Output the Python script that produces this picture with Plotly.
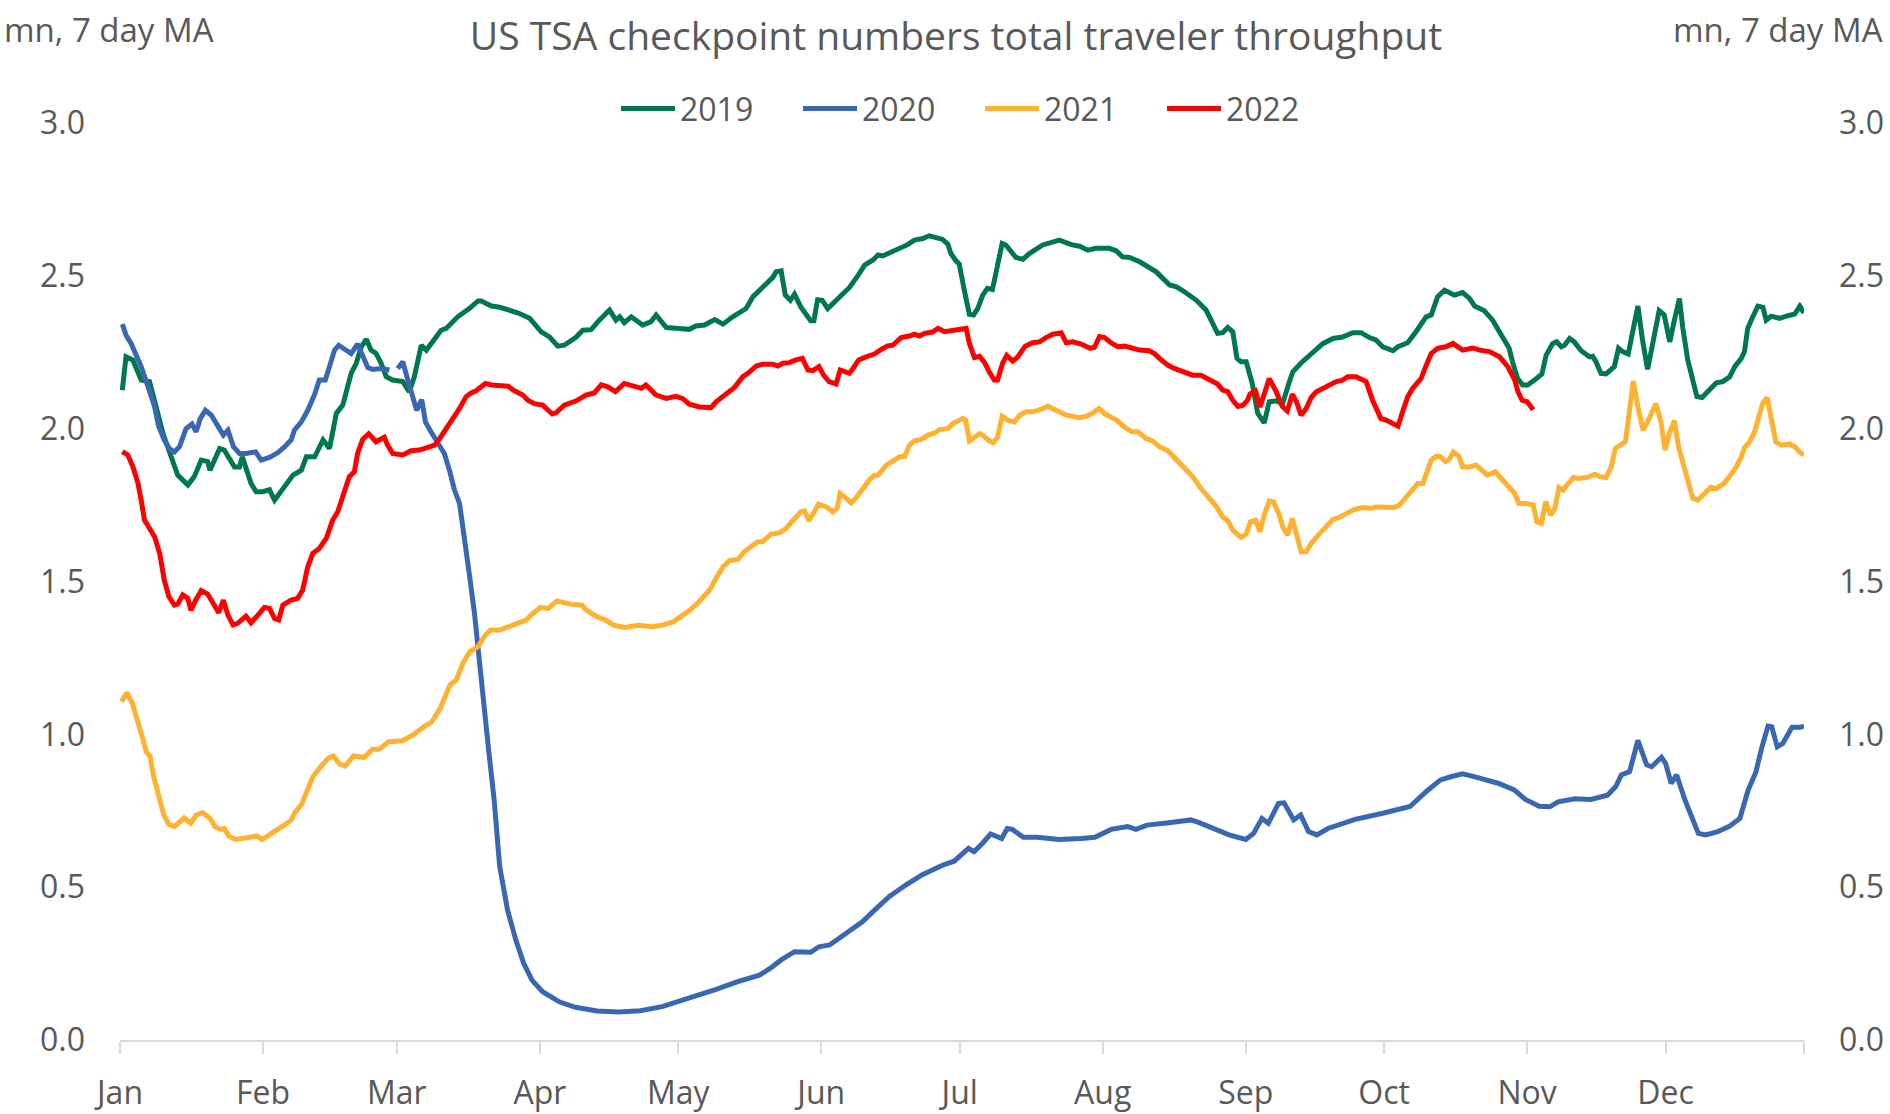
import plotly.graph_objects as go

# ---------------- data (day of year, millions, 7-day MA) ----------------
day_2019 = [0.5,1.3,2.8,4.6,6.4,7.8,9.3,11.1,12.5,14.7,16.1,17.6,19.0,19.5,21.6,22.6,24.8,25.9,26.5,28.4,29.5,30.9,32.4,33.5,35.3,37.5,39.3,40.4,42.2,44.0,45.4,46.9,48.3,50.1,51.2,52.3,53.4,54.4,55.5,56.6,57.7,59.1,61.3,62.7,63.8,65.3,66.4,68.2,69.6,70.7,73.2,75.7,77.6,78.3,80.5,82.3,84.4,86.2,88.8,91.3,93.1,94.9,96.3,98.9,100.3,102.1,103.9,106.1,107.5,108.3,109.3,110.8,113.3,115.1,116.2,118.4,121.2,123.4,124.8,126.7,128.9,130.7,132.8,135.7,137.2,139.3,140.4,141.5,142.2,143.3,144.2,145.3,146.2,147.6,149.7,150.4,151.2,152.2,153.4,155.6,158.1,159.9,161.4,163.2,164.3,165.3,168.2,170.7,172.2,174.0,175.4,176.9,178.3,179.4,180.1,181.2,181.9,183.0,184.1,185.0,185.9,187.0,188.0,189.1,190.2,191.2,192.0,194.2,195.7,197.1,200.0,201.5,203.6,206.2,208.0,209.8,211.5,214.4,215.9,217.3,218.8,221.0,223.1,224.6,227.5,229.0,230.7,233.3,235.4,236.9,237.9,239.0,240.1,241.2,242.1,243.0,244.1,245.4,246.6,248.0,249.1,250.6,252.0,253.1,254.2,256.0,257.8,259.2,260.7,262.9,265.0,267.2,269.0,270.8,272.2,273.7,275.9,277.0,279.1,280.9,283.1,284.2,285.6,287.1,289.2,291.0,292.5,293.6,295.7,297.5,299.3,301.1,301.9,302.9,304.0,305.1,306.6,308.2,309.1,310.5,311.4,312.4,313.1,314.2,315.2,316.7,318.5,319.2,319.9,321.0,322.1,323.9,324.8,325.7,326.9,327.9,329.0,330.0,331.1,332.2,333.6,334.7,335.9,336.9,338.0,338.7,339.8,340.9,341.8,342.9,344.6,346.0,347.4,348.9,350.0,351.4,352.1,352.8,353.9,355.0,356.1,356.8,357.9,359.7,361.2,363.0,364.1,365.0]
val_2019 = [2.126,2.235,2.224,2.159,2.154,2.07,1.985,1.908,1.848,1.816,1.843,1.897,1.892,1.864,1.935,1.93,1.875,1.875,1.908,1.821,1.794,1.794,1.80,1.766,1.80,1.848,1.864,1.908,1.908,1.963,1.935,2.05,2.078,2.181,2.214,2.268,2.293,2.257,2.246,2.214,2.17,2.159,2.154,2.12,2.17,2.273,2.257,2.295,2.322,2.328,2.366,2.393,2.418,2.418,2.401,2.397,2.386,2.379,2.361,2.317,2.30,2.27,2.273,2.30,2.322,2.324,2.355,2.388,2.355,2.366,2.347,2.366,2.339,2.35,2.372,2.331,2.328,2.325,2.336,2.339,2.357,2.342,2.366,2.393,2.432,2.462,2.48,2.495,2.513,2.516,2.437,2.42,2.44,2.397,2.353,2.353,2.422,2.42,2.393,2.424,2.462,2.5,2.535,2.552,2.568,2.565,2.584,2.602,2.617,2.622,2.631,2.626,2.619,2.604,2.573,2.549,2.539,2.453,2.374,2.372,2.393,2.437,2.459,2.455,2.541,2.606,2.601,2.56,2.554,2.573,2.601,2.606,2.617,2.602,2.597,2.584,2.59,2.59,2.582,2.562,2.56,2.546,2.524,2.513,2.47,2.464,2.448,2.42,2.388,2.339,2.312,2.314,2.331,2.317,2.23,2.219,2.219,2.148,2.05,2.019,2.088,2.091,2.082,2.137,2.186,2.215,2.24,2.262,2.278,2.295,2.3,2.314,2.314,2.298,2.29,2.268,2.255,2.268,2.281,2.317,2.366,2.372,2.432,2.453,2.437,2.445,2.426,2.401,2.386,2.355,2.312,2.263,2.214,2.165,2.143,2.143,2.159,2.179,2.24,2.278,2.284,2.268,2.273,2.295,2.284,2.255,2.235,2.237,2.219,2.181,2.179,2.203,2.263,2.252,2.244,2.317,2.401,2.29,2.194,2.278,2.386,2.372,2.284,2.355,2.426,2.333,2.225,2.159,2.105,2.102,2.126,2.15,2.154,2.17,2.203,2.23,2.252,2.328,2.366,2.401,2.397,2.355,2.368,2.361,2.368,2.375,2.401,2.379]

day_2020 = [0.5,1.3,2.4,3.5,4.6,5.7,6.8,7.5,8.4,9.6,10.7,11.8,12.9,14.3,15.6,16.5,17.4,18.5,19.8,21.2,22.4,23.4,24.6,25.9,27.3,29.4,30.6,32.4,34.2,35.7,37.1,37.8,39.3,40.7,42.2,43.2,44.5,45.4,46.5,47.4,49.0,50.1,51.5,52.6,53.7,54.8,56.6,58.4,59.3,60.2,61.3,62.4,63.5,64.3,65.4,66.2,67.4,68.9,70.3,71.4,72.5,73.6,74.7,75.7,76.8,77.6,78.8,79.9,81.1,82.3,84.0,85.8,87.5,89.3,91.6,95.2,98.7,103.4,108.1,112.8,117.5,121.0,124.5,129.2,133.9,138.6,140.9,143.3,146.2,149.7,151.5,153.8,157.4,160.9,163.2,166.7,170.3,173.8,178.5,180.8,183.9,185.1,186.9,188.7,191.1,192.3,193.4,195.8,198.8,203.5,208.3,211.3,214.8,218.4,220.2,222.6,227.3,232.1,233.9,236.8,240.4,244.0,245.7,247.5,248.9,251.1,252.3,254.4,255.9,257.6,259.4,261.8,267.7,273.7,279.6,283.2,286.2,288.6,291.0,293.9,298.7,302.2,304.6,307.6,309.9,311.7,315.3,318.8,322.4,324.2,325.4,327.2,329.0,330.9,332.0,334.1,335.0,336.2,337.4,339.2,342.1,343.7,346.3,348.7,351.1,352.9,354.6,355.8,357.2,358.0,359.2,360.4,362.4,364.2,365.0]
val_2020 = [2.342,2.306,2.279,2.241,2.203,2.154,2.105,2.072,2.006,1.963,1.935,1.924,1.941,2.0,2.015,1.99,2.033,2.06,2.044,2.006,1.979,1.995,1.941,1.919,1.919,1.924,1.897,1.906,1.921,1.941,1.963,1.995,2.022,2.06,2.113,2.159,2.159,2.203,2.257,2.273,2.257,2.246,2.277,2.235,2.2,2.194,2.197,2.192,None,2.197,2.219,2.159,2.105,2.06,2.095,2.022,1.99,1.954,1.919,1.864,1.799,1.755,1.646,1.526,1.40,1.276,1.112,0.949,0.785,0.567,0.425,0.327,0.251,0.196,0.158,0.125,0.107,0.095,0.092,0.096,0.109,0.125,0.144,0.166,0.191,0.212,0.234,0.262,0.289,0.287,0.305,0.311,0.349,0.387,0.42,0.469,0.507,0.54,0.573,0.585,0.627,0.616,0.643,0.674,0.659,0.692,0.689,0.663,0.663,0.656,0.659,0.663,0.689,0.698,0.689,0.703,0.711,0.72,0.711,0.692,0.671,0.656,0.676,0.725,0.709,0.774,0.776,0.72,0.736,0.682,0.671,0.692,0.722,0.742,0.764,0.814,0.851,0.862,0.871,0.86,0.84,0.818,0.787,0.765,0.763,0.779,0.789,0.787,0.801,0.829,0.867,0.878,0.98,0.9,0.894,0.925,0.905,0.84,0.867,0.785,0.676,0.671,0.682,0.698,0.725,0.818,0.878,0.954,1.027,1.025,0.959,0.97,1.023,1.023,1.027]

day_2021 = [0.3,1.5,2.7,3.8,4.8,5.7,6.5,7.3,8.5,9.5,10.6,11.8,12.8,13.9,15.3,16.5,17.9,19.5,20.6,21.8,22.6,23.6,25.0,28.3,29.7,30.8,33.0,34.4,35.9,37.1,37.9,39.4,40.6,41.8,43.5,45.3,46.2,47.6,48.8,50.6,52.9,54.7,56.2,58.2,61.2,63.5,65.9,67.6,69.4,70.6,71.5,72.9,74.3,75.8,77.6,79.0,80.3,82.3,84.4,88.0,89.1,91.1,92.8,94.7,97.6,100.1,101.1,103.4,105.2,107.0,109.4,112.3,115.2,117.5,119.9,121.6,123.4,125.2,126.7,128.1,129.2,130.7,132.1,133.9,135.3,136.8,138.2,139.3,141.1,142.9,144.4,145.8,147.6,148.4,149.3,150.5,151.4,153.1,154.5,155.4,156.1,157.4,158.5,159.6,161.0,162.5,163.5,164.3,166.1,167.5,169.0,170.1,171.1,172.2,173.7,175.1,176.6,177.6,179.4,180.5,181.6,182.7,183.3,184.1,185.2,186.3,187.0,188.4,189.3,190.2,191.2,192.4,193.9,195.0,196.4,197.9,199.3,201.1,202.9,205.1,208.0,209.5,210.9,212.2,213.4,216.0,217.5,219.3,220.6,222.4,223.8,225.3,227.1,228.5,231.1,232.5,234.3,236.1,237.6,239.0,240.1,241.2,243.0,244.1,245.0,246.1,247.1,248.0,249.1,250.0,251.3,252.0,253.1,254.1,255.0,256.0,257.1,258.2,259.7,261.4,262.9,264.3,265.8,267.6,269.4,271.2,272.2,274.4,276.2,277.3,278.7,280.2,281.3,282.4,283.3,284.2,285.3,286.3,287.3,288.1,289.0,290.2,291.0,292.5,293.9,295.4,296.4,298.1,299.8,301.2,302.3,303.2,304.8,306.3,307.1,308.1,309.0,310.1,311.0,311.9,312.8,313.6,315.0,316.1,317.9,319.7,320.8,322.1,323.2,324.1,326.3,327.0,328.0,329.0,330.1,331.1,331.8,332.9,334.0,334.9,335.8,336.9,337.8,339.4,340.9,342.0,343.4,344.8,345.9,347.7,348.8,350.3,351.4,352.1,353.2,354.3,355.4,356.1,357.0,357.9,358.9,360.1,361.9,363.0,364.0,365.0]
val_2021 = [1.107,1.136,1.101,1.036,0.992,0.943,0.929,0.861,0.785,0.736,0.706,0.698,0.711,0.727,0.709,0.736,0.744,0.725,0.698,0.689,0.692,0.667,0.656,0.665,0.667,0.656,0.676,0.689,0.706,0.72,0.744,0.772,0.812,0.861,0.894,0.924,0.929,0.903,0.896,0.929,0.924,0.951,0.951,0.976,0.979,0.998,1.025,1.041,1.085,1.129,1.161,1.178,1.232,1.27,1.287,1.321,1.341,1.341,1.354,1.374,1.39,1.415,1.412,1.436,1.426,1.423,1.406,1.385,1.374,1.357,1.35,1.357,1.352,1.357,1.368,1.385,1.405,1.429,1.456,1.478,1.511,1.548,1.568,1.572,1.597,1.614,1.63,1.63,1.655,1.659,1.674,1.699,1.728,1.731,1.699,1.728,1.753,1.744,1.728,1.739,1.788,1.772,1.757,1.775,1.804,1.834,1.848,1.848,1.881,1.895,1.908,1.91,1.946,1.96,1.965,1.979,1.986,1.997,2.0,2.017,2.025,2.033,2.028,1.96,1.972,1.984,1.979,1.96,1.954,1.972,2.041,2.028,2.022,2.044,2.055,2.055,2.062,2.073,2.06,2.044,2.036,2.041,2.052,2.066,2.049,2.028,2.008,1.99,1.99,1.968,1.96,1.941,1.928,1.906,1.87,1.843,1.804,1.772,1.746,1.712,1.699,1.668,1.644,1.655,1.695,1.701,1.663,1.717,1.764,1.761,1.717,1.679,1.652,1.706,1.652,1.597,1.597,1.625,1.652,1.679,1.703,1.71,1.723,1.736,1.742,1.739,1.744,1.744,1.742,1.75,1.777,1.804,1.821,1.821,1.859,1.897,1.91,1.908,1.892,1.899,1.924,1.91,1.875,1.875,1.881,1.859,1.848,1.859,1.832,1.804,1.788,1.755,1.755,1.75,1.695,1.69,1.761,1.717,1.739,1.808,1.799,1.815,1.84,1.837,1.84,1.851,1.843,1.84,1.875,1.935,1.957,2.039,2.156,2.071,1.995,2.022,2.044,2.082,2.022,1.93,1.984,2.026,1.941,1.848,1.772,1.766,1.786,1.808,1.804,1.821,1.843,1.875,1.908,1.938,1.957,1.99,2.049,2.084,2.102,2.028,1.957,1.946,1.95,1.941,1.924,1.914]

day_2022 = [0.5,1.7,2.8,3.9,4.6,5.3,6.0,7.5,8.6,9.6,10.6,11.8,12.5,13.6,14.7,15.4,16.4,17.6,19.0,20.1,21.4,22.4,23.4,24.5,25.5,27.3,28.4,29.9,31.3,32.4,33.5,34.4,35.3,37.1,38.5,39.6,40.7,41.8,43.2,44.7,46.1,47.2,48.3,49.7,50.8,51.5,52.6,53.9,55.5,57.3,58.0,59.1,61.3,63.1,64.9,67.1,68.2,69.3,70.7,72.2,73.6,75.0,76.1,77.2,79.2,80.5,83.0,84.1,85.5,87.3,88.4,89.8,91.6,93.7,94.5,96.3,98.9,101.0,102.8,104.3,105.7,107.4,109.3,111.5,113.0,114.0,116.2,118.4,120.5,122.0,123.4,125.6,128.1,129.2,130.6,133.2,135.0,136.1,137.9,139.3,141.5,142.6,143.7,145.1,146.5,147.9,149.1,150.2,151.5,152.5,153.7,155.2,156.1,158.1,158.9,160.1,161.7,163.5,165.0,166.4,167.5,169.3,171.1,172.2,173.3,174.4,176.1,177.3,178.7,180.5,182.7,183.4,184.1,185.2,186.3,187.4,188.4,189.5,190.2,191.3,192.2,193.5,194.6,196.2,197.8,199.3,200.7,202.2,204.0,205.1,206.5,208.3,210.3,211.2,212.3,213.4,215.0,216.3,217.7,219.5,221.0,223.1,224.2,225.3,227.1,228.5,230.3,232.5,234.3,236.1,237.9,239.0,240.1,241.2,242.3,243.4,244.4,244.9,246.1,247.1,248.0,249.1,250.6,251.9,253.0,254.1,255.0,256.0,257.1,258.2,259.3,260.7,262.1,263.6,265.0,266.1,267.9,270.1,271.5,273.3,274.4,275.9,277.0,278.0,279.1,280.2,282.0,283.0,284.2,285.6,287.4,288.9,291.0,293.2,294.7,296.8,299.0,300.8,302.3,303.0,303.9,305.0,306.3]
val_2022 = [1.925,1.914,1.875,1.821,1.766,1.701,1.684,1.646,1.592,1.504,1.45,1.423,1.426,1.456,1.445,1.406,1.439,1.47,1.459,1.428,1.398,1.439,1.39,1.358,1.363,1.387,1.365,1.39,1.415,1.412,1.379,1.374,1.423,1.439,1.445,1.472,1.548,1.592,1.608,1.641,1.701,1.728,1.777,1.843,1.859,1.919,1.965,1.983,1.957,1.972,1.946,1.919,1.914,1.928,1.93,1.941,1.946,1.968,2.0,2.028,2.066,2.104,2.117,2.124,2.148,2.143,2.14,2.139,2.124,2.11,2.093,2.082,2.077,2.048,2.052,2.077,2.091,2.11,2.117,2.143,2.137,2.121,2.148,2.139,2.132,2.143,2.11,2.099,2.106,2.098,2.08,2.071,2.069,2.088,2.106,2.135,2.17,2.181,2.205,2.211,2.211,2.205,2.214,2.216,2.225,2.23,2.192,2.19,2.203,2.175,2.154,2.146,2.192,2.181,2.197,2.225,2.235,2.244,2.259,2.271,2.273,2.298,2.303,2.309,2.303,2.312,2.316,2.328,2.317,2.322,2.33,2.328,2.279,2.233,2.237,2.216,2.186,2.159,2.159,2.214,2.24,2.221,2.235,2.27,2.281,2.284,2.298,2.309,2.314,2.281,2.284,2.277,2.263,2.266,2.301,2.298,2.279,2.268,2.27,2.263,2.257,2.255,2.246,2.23,2.208,2.197,2.186,2.175,2.175,2.159,2.146,2.126,2.121,2.093,2.073,2.077,2.093,2.113,2.124,2.071,2.115,2.164,2.121,2.073,2.058,2.113,2.088,2.044,2.066,2.102,2.121,2.132,2.139,2.154,2.159,2.17,2.17,2.154,2.093,2.033,2.028,2.015,2.008,2.055,2.104,2.132,2.164,2.203,2.246,2.263,2.268,2.279,2.257,2.264,2.257,2.252,2.235,2.203,2.159,2.121,2.093,2.088,2.062]

series_names = ["2019", "2020", "2021", "2022"]
series_colors = ["#00784B", "#3A67B1", "#FFB132", "#FF0000"]
month_ticks = [0, 31, 60, 91, 121, 152, 182, 213, 244, 274, 305, 335, 365]
month_labels = ["Jan", "Feb", "Mar", "Apr", "May", "Jun", "Jul", "Aug", "Sep", "Oct", "Nov", "Dec", ""]
y_ticks = [0.0, 0.5, 1.0, 1.5, 2.0, 2.5, 3.0]

title_text = "US TSA checkpoint numbers total traveler throughput"
unit_text = "mn, 7 day MA"

# ---------------- layout geometry ----------------
W, H = 1890, 1114
ML, MR, MT, MB = 120, 86, 123, 74
PW = W - ML - MR
PH = H - MT - MB
TXT = "#595959"
FONT = "Open Sans"

def px_x(px):
    return (px - ML) / PW

def px_y(py):
    return (H - MB - py) / PH

fig = go.Figure()
all_days = [day_2019, day_2020, day_2021, day_2022]
all_vals = [val_2019, val_2020, val_2021, val_2022]
for i, (name, color) in enumerate(zip(series_names, series_colors)):
    fig.add_trace(go.Scatter(
        x=all_days[i], y=all_vals[i], name=name, mode="lines",
        line=dict(color=color, width=5),
        connectgaps=False, showlegend=False,
        yaxis="y2" if name == "2022" else "y",
    ))

# manual legend (line sample + label) to match the reference look
shapes = []
annotations = []
for i, (name, color) in enumerate(zip(series_names, series_colors)):
    x0 = 621 + 182 * i
    shapes.append(dict(type="line", xref="paper", yref="paper",
                       x0=px_x(x0), x1=px_x(x0 + 54), y0=px_y(108.5), y1=px_y(108.5),
                       line=dict(color=color, width=5)))
    annotations.append(dict(text=name, xref="paper", yref="paper",
                            x=px_x(x0 + 57), y=px_y(108.5), xanchor="left", yanchor="middle",
                            showarrow=False, font=dict(size=32, color=TXT, family=FONT)))

annotations.append(dict(text=unit_text, xref="paper", yref="paper", x=px_x(2), y=px_y(30),
                        xanchor="left", yanchor="middle", showarrow=False,
                        font=dict(size=33, color=TXT, family=FONT)))
annotations.append(dict(text=unit_text, xref="paper", yref="paper", x=px_x(1885), y=px_y(30),
                        xanchor="right", yanchor="middle", showarrow=False,
                        font=dict(size=33, color=TXT, family=FONT)))

yax = dict(range=[0, 3], tickvals=y_ticks, tickformat=".1f", showgrid=False, zeroline=False,
           showline=False, ticks="", ticklabelstandoff=34, automargin=False,
           tickfont=dict(size=32, color=TXT, family=FONT))

fig.update_layout(
    width=W, height=H,
    margin=dict(l=ML, r=MR, t=MT, b=MB, pad=0, autoexpand=False),
    paper_bgcolor="white", plot_bgcolor="white",
    title=dict(text=title_text, x=956 / W, xref="container", xanchor="center",
               y=1 - 36 / H, yref="container", yanchor="middle",
               font=dict(size=39, color=TXT, family=FONT)),
    xaxis=dict(range=[0, 365], tickvals=month_ticks, ticktext=month_labels,
               showgrid=False, zeroline=False, showline=True, linecolor="#D9D9D9", linewidth=2,
               ticks="outside", ticklen=12, tickwidth=2, tickcolor="#D9D9D9",
               ticklabelstandoff=12, automargin=False,
               tickfont=dict(size=32, color=TXT, family=FONT)),
    yaxis=dict(**yax, side="left"),
    yaxis2=dict(**yax, side="right", overlaying="y"),
    shapes=shapes,
    annotations=annotations,
    showlegend=False,
)

fig.write_html("out.html", config={"displayModeBar": False},
               post_script="document.body.style.margin='0';document.body.style.overflow='hidden';")
